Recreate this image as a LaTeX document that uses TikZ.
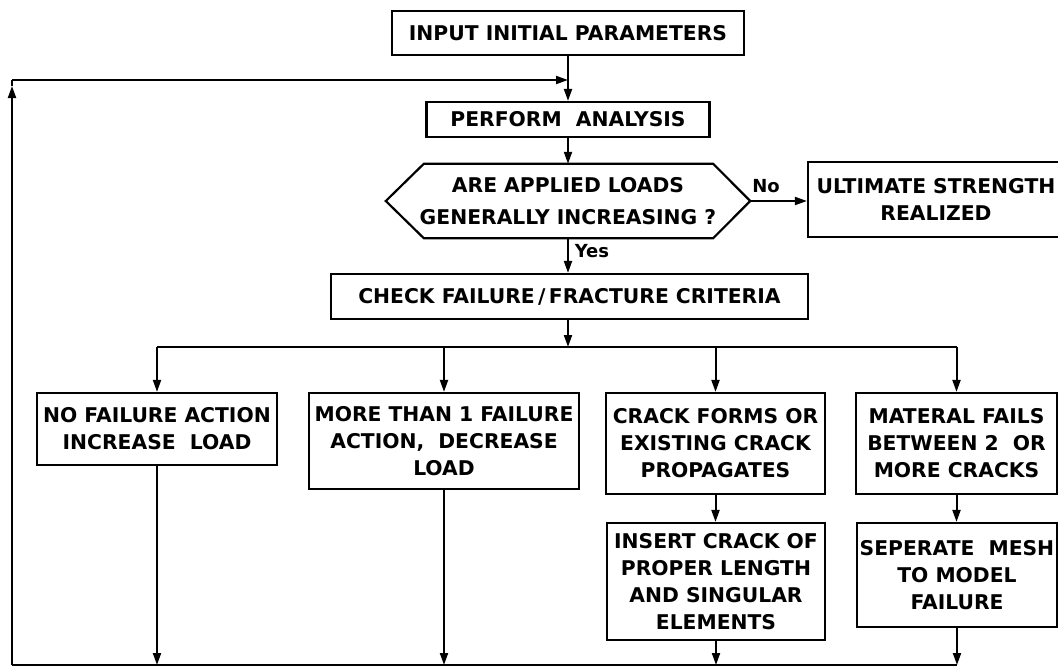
\documentclass[tikz,border=0pt]{standalone}
\usepackage{fontspec}
\setmainfont{DejaVu Sans}
\usetikzlibrary{arrows.meta}
\begin{document}
\begin{tikzpicture}[x=1pt,y=-1pt,
  font=\fontsize{20.3}{27}\selectfont\bfseries,
  box/.style={draw, line width=2.2pt, align=center, inner sep=0pt},
  ln/.style={line width=2pt},
  arr/.style={line width=2pt, -{Triangle[length=12pt,width=8pt]}},
  lab/.style={font=\fontsize{18}{22}\selectfont\bfseries, inner sep=0pt}]
\useasboundingbox (0,0) rectangle (1058,670);

% main column
\node[box, minimum width=352pt, minimum height=44pt] (inp) at (568,33) {INPUT INITIAL PARAMETERS};
\node[box, minimum width=283pt, minimum height=35pt] (perf) at (568,119.5) {PERFORM\ \ ANALYSIS};
\node[minimum width=364pt, minimum height=74pt, inner sep=0pt, align=center] (hex) at (568,201)
  {ARE APPLIED LOADS\\[5pt]GENERALLY INCREASING ?};
\draw[line width=2.2pt] (hex.west) -- ([xshift=38pt]hex.north west) -- ([xshift=-37pt]hex.north east)
  -- (hex.east) -- ([xshift=-37pt]hex.south east) -- ([xshift=38pt]hex.south west) -- cycle;
\node[box, minimum width=256pt, minimum height=75pt] (ult) at (936,199.5) {ULTIMATE STRENGTH\\REALIZED};
\node[lab] (nolab) at (766,186) {No};
\node[lab] (yeslab) at (592,251) {Yes};
\node[box, minimum width=477pt, minimum height=45pt] (chk) at (569.5,296.5) {CHECK FAILURE\,/\,FRACTURE CRITERIA};

% outcome boxes
\node[box, minimum width=240pt, minimum height=72pt] (b1) at (157,429) {NO FAILURE ACTION\\INCREASE\ \ LOAD};
\node[box, minimum width=270pt, minimum height=96pt] (b2) at (444,441) {MORE THAN 1 FAILURE\\ACTION,\ \ DECREASE\\LOAD};
\node[box, minimum width=219pt, minimum height=101pt] (b3) at (715.5,443.5) {CRACK FORMS OR\\EXISTING CRACK\\PROPAGATES};
\node[box, minimum width=201pt, minimum height=101pt] (b4) at (956.5,443.5) {MATERAL FAILS\\BETWEEN 2\ \ OR\\MORE CRACKS};
\node[box, minimum width=218pt, minimum height=117pt] (b5) at (716,581.5) {INSERT CRACK OF\\PROPER LENGTH\\AND SINGULAR\\ELEMENTS};
\node[box, minimum width=200pt, minimum height=104pt] (b6) at (957,575) {SEPERATE\ \ MESH\\TO MODEL\\FAILURE};

\coordinate (bus) at (568,347);
\coordinate (fbBL) at (12,665);
\coordinate (fbTL) at (12,80);

% connectors
\draw[arr] (inp.south) -- (perf.north);
\draw[arr] (perf.south) -- (hex.north);
\draw[arr] (hex.east) -- (hex.east -| ult.west);
\draw[arr] (hex.south) -- (hex.south |- chk.north);
\draw[arr] (chk.south -| bus) -- (bus);
\draw[ln] (bus -| b1.north) -- (bus -| b4.north);
\foreach \b in {b1,b2,b3,b4} \draw[arr] (bus -| \b.north) -- (\b.north);
\draw[arr] (b3.south) -- (b3.south |- b5.north);
\draw[arr] (b4.south) -- (b4.south |- b6.north);
\foreach \b in {b1,b2,b5,b6} \draw[arr] (\b.south) -- (\b.south |- fbBL);
\draw[ln] (fbBL) -- (b6.south |- fbBL);
\draw[arr] (fbBL) -- ([yshift=-6pt]fbTL);
\draw[ln] ([yshift=-6pt]fbTL) -- (fbTL);
\draw[arr] (fbTL) -- (inp.south |- fbTL);
\end{tikzpicture}
\end{document}
